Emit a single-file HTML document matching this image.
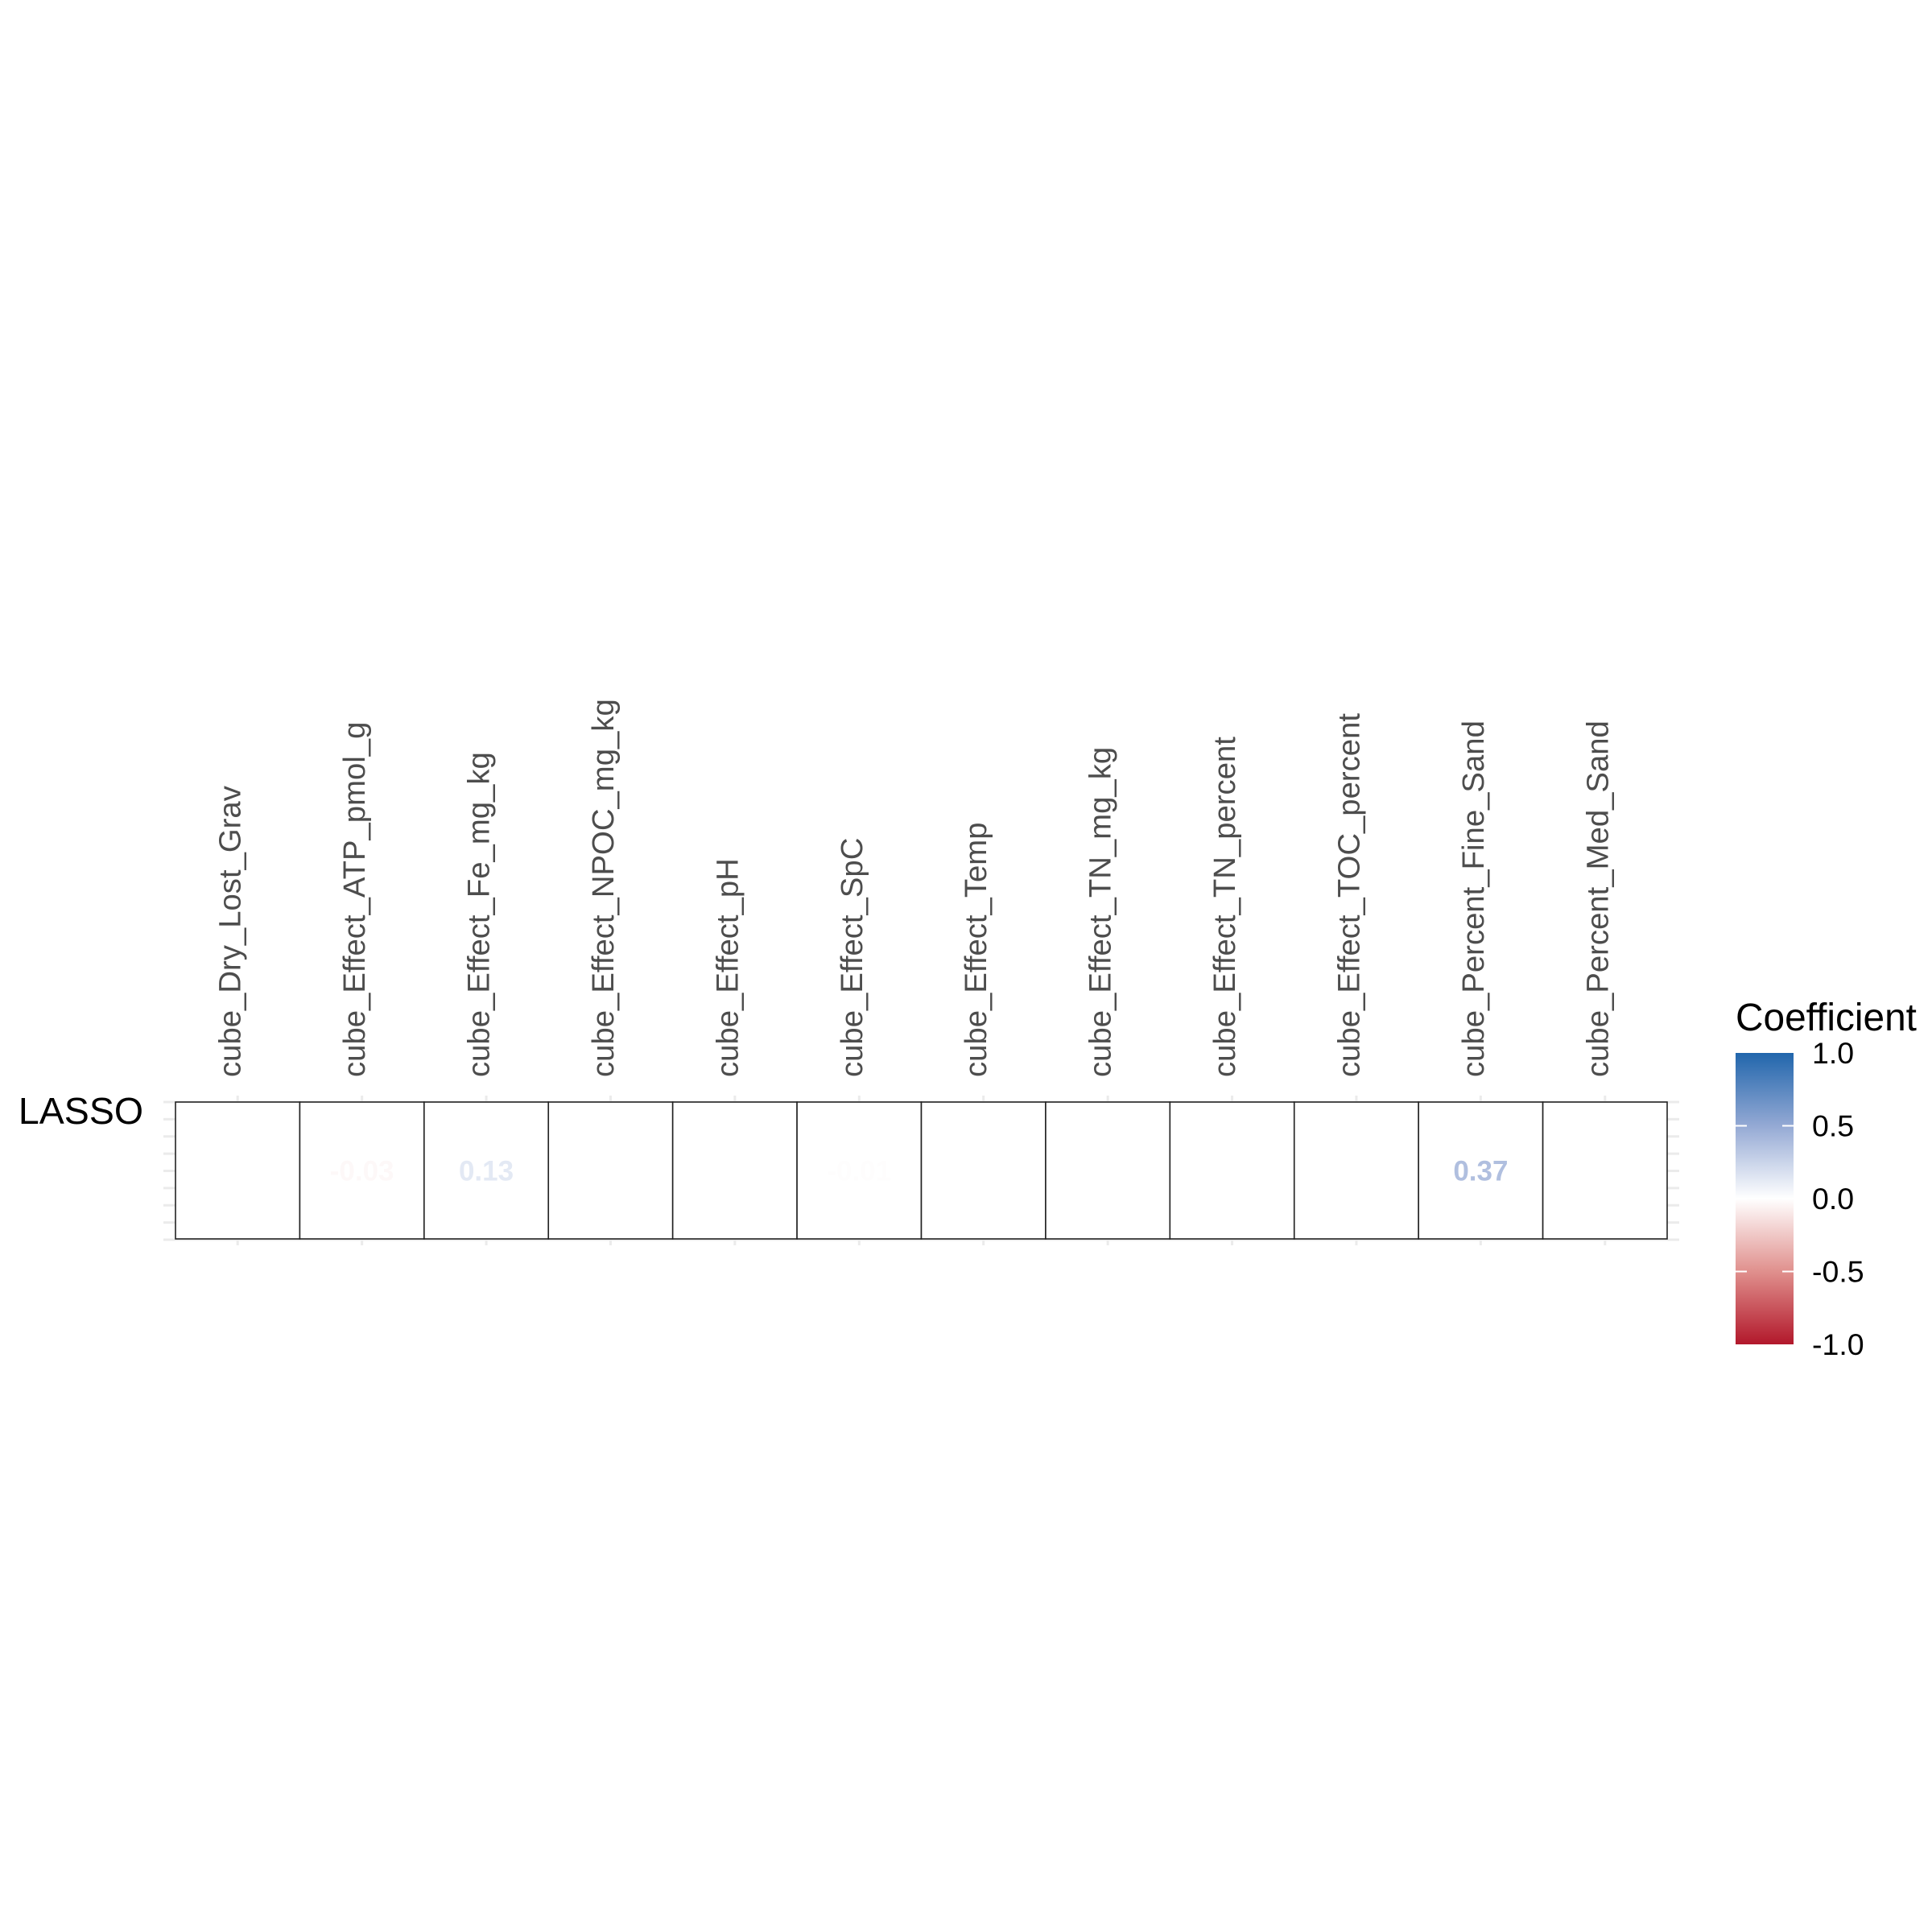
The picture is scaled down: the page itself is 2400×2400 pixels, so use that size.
<!DOCTYPE html>
<html><head><meta charset="utf-8"><style>
html,body{margin:0;padding:0;background:#fff;}
svg{display:block;font-family:"Liberation Sans",Arial,sans-serif;}
</style></head><body>
<svg id="chart" width="2400" height="2400" viewBox="0 0 2400 2400" xmlns="http://www.w3.org/2000/svg">
<defs>
<linearGradient id="legGrad" x1="0" y1="1" x2="0" y2="0">
<stop offset="0" stop-color="#b2182b"/>
<stop offset="0.25" stop-color="#e0908d"/>
<stop offset="0.5" stop-color="#ffffff"/>
<stop offset="0.75" stop-color="#94a9d4"/>
<stop offset="1" stop-color="#2166ac"/>
</linearGradient>
</defs>
<g id="grid"></g>
<g id="tiles"></g>
<g id="xlabels"></g>
<text x="178" y="1396" font-size="46.5" text-anchor="end" fill="#000">LASSO</text>
<g>
<text x="2156" y="1280" font-size="47.8" fill="#000">Coefficient</text>
<rect x="2156" y="1308" width="72" height="362" fill="url(#legGrad)"/>
<g id="legticks"></g>
</g>
</svg>
<script>
const categories = ["cube_Dry_Lost_Grav","cube_Effect_ATP_pmol_g","cube_Effect_Fe_mg_kg","cube_Effect_NPOC_mg_kg","cube_Effect_pH","cube_Effect_SpC","cube_Effect_Temp","cube_Effect_TN_mg_kg","cube_Effect_TN_percent","cube_Effect_TOC_percent","cube_Percent_Fine_Sand","cube_Percent_Med_Sand"];
const coefValues = [0, -0.03, 0.13, 0, 0, -0.01, 0, 0, 0, 0, 0.37, 0];
const legendTicks = [1.0, 0.5, 0.0, -0.5, -1.0];

const NS = "http://www.w3.org/2000/svg";
const X0 = 218, X1 = 2071, Y0 = 1369, Y1 = 1539;
const colW = (X1 - X0) / categories.length;
function xScale(i){ return X0 + colW * (i + 0.5); }
const LT = 1308, LB = 1670;
function legY(v){ return LT + (1 - v) / 2 * (LB - LT); }
function hex(c){ return [parseInt(c.slice(1,3),16),parseInt(c.slice(3,5),16),parseInt(c.slice(5,7),16)]; }
const stops = [[-1,"#b2182b"],[-0.5,"#e0908d"],[0,"#ffffff"],[0.5,"#94a9d4"],[1,"#2166ac"]];
function colorOf(v){
  v = Math.max(-1, Math.min(1, v));
  for (let k=0;k<stops.length-1;k++){
    const a=stops[k], b=stops[k+1];
    if (v>=a[0] && v<=b[0]){
      const t=(v-a[0])/(b[0]-a[0]); const ca=hex(a[1]), cb=hex(b[1]);
      return "rgb("+ca.map((x,j)=>Math.round(x+(cb[j]-x)*t)).join(",")+")";
    }
  }
  return "#fff";
}
function mk(tag, attrs, parent){
  const e=document.createElementNS(NS,tag);
  for (const k in attrs) e.setAttribute(k, attrs[k]);
  parent.appendChild(e); return e;
}
const grid=document.getElementById("grid");
for (let k=0;k<=8;k++){
  const y=Y0+(Y1+1-Y0)*k/8;
  const l=mk("line",{x1:203,x2:2086,y1:y,y2:y,stroke:"#ebebeb","stroke-width":3},grid);
  
  
}
categories.forEach((c,i)=>{
  const l=mk("line",{x1:xScale(i),x2:xScale(i),y1:1361,y2:1547,stroke:"#ebebeb","stroke-width":3},grid);
  
  
});
const tiles=document.getElementById("tiles");
coefValues.forEach((v,i)=>{
  const r=mk("rect",{x:X0+colW*i,y:Y0,width:colW,height:Y1-Y0,fill:"#ffffff",stroke:"#222","stroke-width":1.6},tiles);
  
  
  if (v!==0){
    const t=mk("text",{x:xScale(i),y:1455,"font-size":35,"font-weight":"bold","text-anchor":"middle","dominant-baseline":"central",fill:colorOf(v)},tiles);
    t.textContent=v.toFixed(2);
    
    
  }
});
const xl=document.getElementById("xlabels");
categories.forEach((c,i)=>{
  const x=xScale(i)-9, y=1338;
  const t=mk("text",{x:x,y:y,"font-size":38.3,fill:"#4d4d4d","dominant-baseline":"central",transform:"rotate(-90 "+x+" "+y+")"},xl);
  t.textContent=c;
  
  
});
const lt=document.getElementById("legticks");
legendTicks.forEach(v=>{
  const y=legY(v);
  if (Math.abs(v)<1){
    const a=mk("line",{x1:2156,x2:2170,y1:y,y2:y,stroke:"#fff","stroke-width":2},lt);
    
    
    const b=mk("line",{x1:2214,x2:2228,y1:y,y2:y,stroke:"#fff","stroke-width":2},lt);
    
    
  }
  const t=mk("text",{x:2251,y:y,"font-size":37.5,fill:"#000","dominant-baseline":"central"},lt);
  t.textContent=v.toFixed(1);
  
  
});
</script>
</body></html>
